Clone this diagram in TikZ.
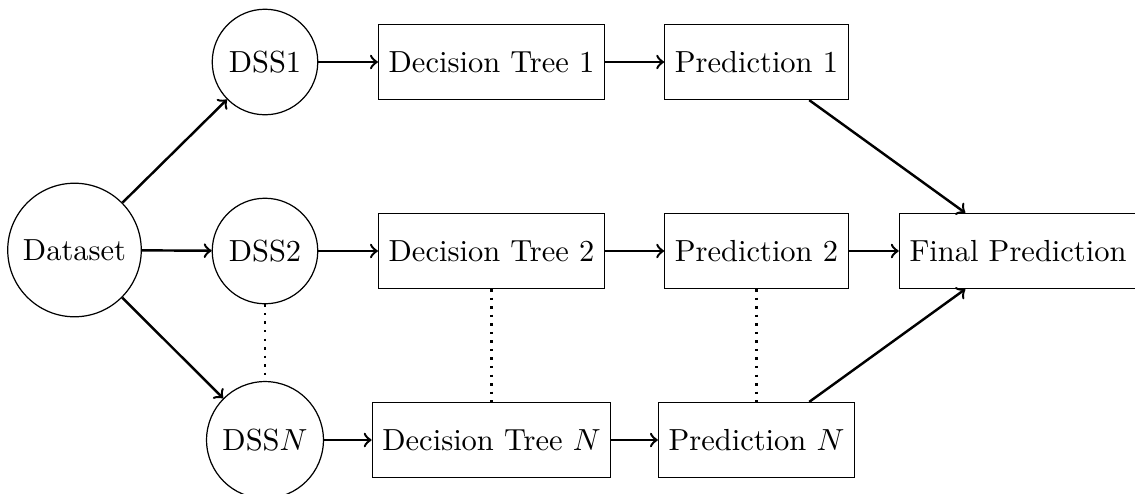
\documentclass[tikz,border=0pt]{standalone}
\begin{document}
\begin{tikzpicture}[x=0.3279pt,y=-0.3279pt,
  circ/.style={circle,draw,line width=0.4pt,inner sep=3.8pt},
  boxnode/.style={rectangle,draw,line width=0.4pt,minimum height=24.6pt},
  arr/.style={->,thick},
  dots/.style={thick,dotted}]
\useasboundingbox (0,0) rectangle (1135,493);
\node[circ] (ds) at (74.5,250) {Dataset};
\node[circ] (s1) at (265,62) {DSS1};
\node[circ] (s2) at (265,251) {DSS2};
\node[circ] (sn) at (265,440) {DSS$N$};
\node[boxnode] (t1) at (491.5,62) {Decision Tree 1};
\node[boxnode] (t2) at (491.5,251) {Decision Tree 2};
\node[boxnode] (tn) at (491.5,440) {Decision Tree $N$};
\node[boxnode] (p1) at (756.5,62) {Prediction 1};
\node[boxnode] (p2) at (756.5,251) {Prediction 2};
\node[boxnode] (pn) at (756.5,440) {Prediction $N$};
\node[boxnode] (f) at (1018,251) {Final Prediction};
\draw[arr] (ds) -- (s1);
\draw[arr] (ds) -- (s2);
\draw[arr] (ds) -- (sn);
\draw[arr] (s1) -- (t1);
\draw[arr] (s2) -- (t2);
\draw[arr] (sn) -- (tn);
\draw[arr] (t1) -- (p1);
\draw[arr] (t2) -- (p2);
\draw[arr] (tn) -- (pn);
\draw[arr] (p1) -- (f);
\draw[arr] (p2) -- (f);
\draw[arr] (pn) -- (f);
\draw[dots] (s2) -- (sn);
\draw[dots] (t2) -- (tn);
\draw[dots] (p2) -- (pn);
\end{tikzpicture}
\end{document}
